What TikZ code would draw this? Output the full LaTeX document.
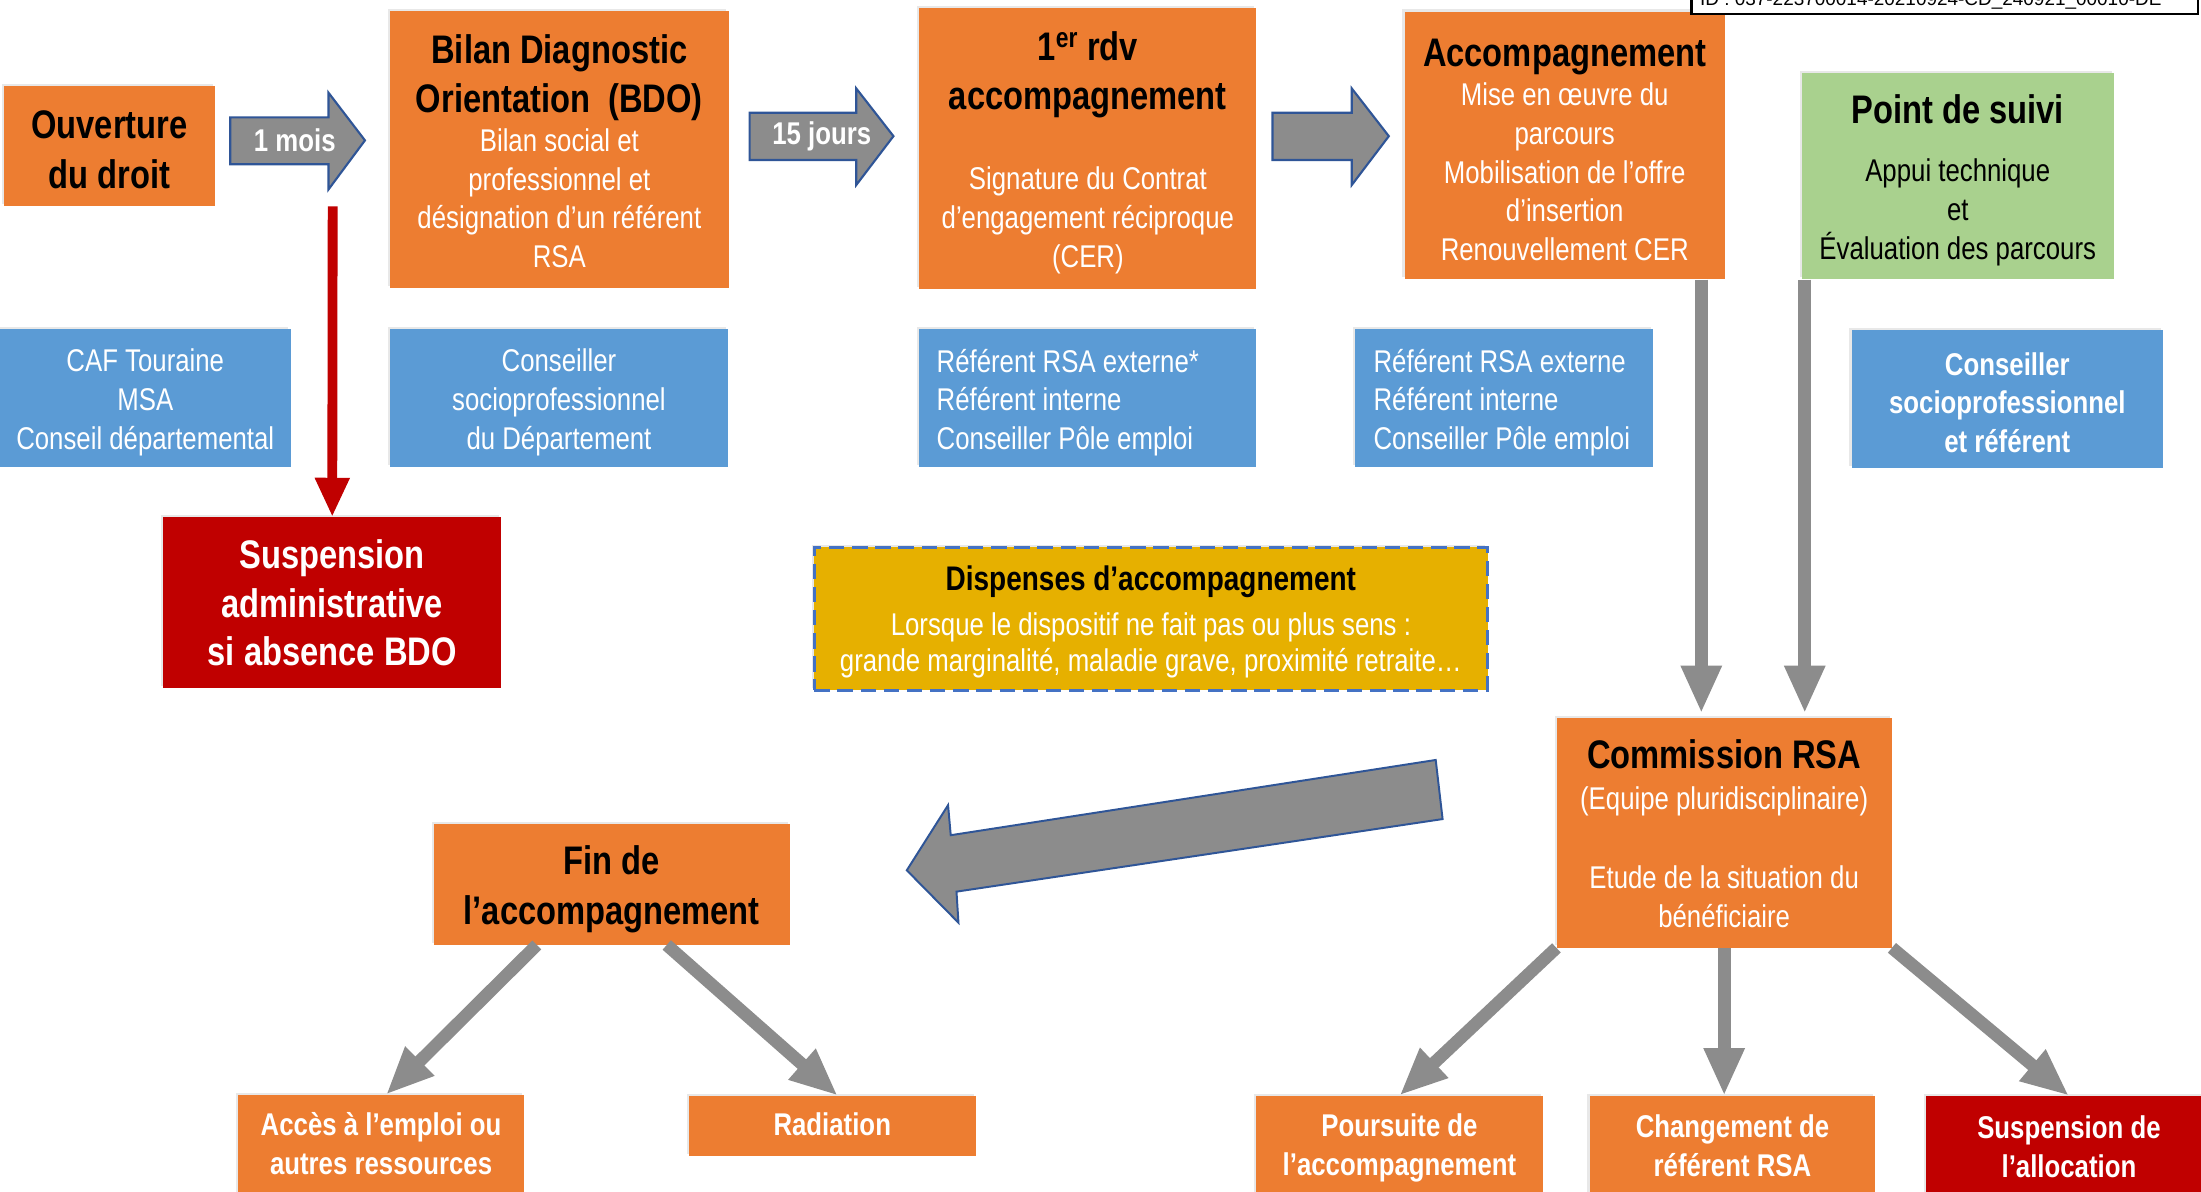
\documentclass[tikz,border=0pt]{standalone}
\usepackage{fontspec}
\setmainfont{Liberation Sans}[FakeStretch=0.82]
\newfontfamily\idfont{Liberation Sans}
\usetikzlibrary{arrows.meta,shadows}
\definecolor{orng}{HTML}{ED7D31}
\definecolor{blu}{HTML}{5B9BD5}
\definecolor{redd}{HTML}{C00000}
\definecolor{grn}{HTML}{A9D18E}
\definecolor{gold}{HTML}{E6B000}
\definecolor{arrg}{HTML}{8C8C8C}
\definecolor{arrb}{HTML}{2F5597}
\definecolor{dashb}{HTML}{4472C4}
\newcommand\basefnt{\fontsize{22.4}{27.6}\selectfont\lineskiplimit=-200pt\relax}
\newcommand\ttl{\fontsize{28.4}{35}\selectfont\bfseries\color{black}}
\newcommand\ttw{\fontsize{28.4}{35}\selectfont\bfseries\color{white}}
\newcommand\dtl{\fontsize{24.3}{30}\selectfont\bfseries\color{black}}
\newcommand\toph[1]{\rule{0pt}{#1}}
\newcommand\botd[1]{\rule[-#1]{0pt}{0pt}}
\begin{document}
\begin{tikzpicture}[x=1pt,y=-1pt,
  box/.style={rectangle, inner sep=0pt, align=center, text=white,
    font=\basefnt,
    drop shadow={shadow xshift=-1.5pt, shadow yshift=1.5pt, opacity=0.18}},
  orbox/.style={box, fill=orng},
  blbox/.style={box, fill=blu},
  rdbox/.style={box, fill=redd},
  btxt/.style={inner sep=0pt, align=left, text=white, font=\basefnt},
  blockarrow/.style={fill=arrg, draw=arrb, line width=1.5pt, line join=miter},
  arrtxt/.style={inner sep=0pt, text=white, font={\basefnt\bfseries}},
  garr/.style={draw=arrg, line width=9pt, -{Triangle[width=27pt,length=34pt]}},
  rarr/.style={draw=redd, line width=7pt, -{Triangle[width=23pt,length=28pt]}}]
\useasboundingbox (0,0) rectangle (1568,849);
\fill[white] (0,0) rectangle (1568,849);

% top row
\node[orbox, minimum width=150pt, minimum height=86pt] (ouv) at (78,104)
  {\toph{25.2pt}\ttl Ouverture\\[8.4pt]\ttl du droit};
\node[orbox, minimum width=241pt, minimum height=197pt] (bdo) at (398.5,106.5)
  {\toph{23pt}\ttl Bilan Diagnostic\\[7.4pt]\ttl Orientation~~(BDO)\\Bilan social et\\professionnel et\\désignation d’un référent\\RSA};
\node[orbox, minimum width=240pt, minimum height=200pt] (rdv) at (775,106)
  {\toph{26pt}\ttl 1\textsuperscript{er} rdv\\[7.2pt]\ttl accompagnement\\[29.6pt]Signature du Contrat\\d'engagement réciproque\\(CER)};
\node[orbox, minimum width=228.2pt, minimum height=190.7pt] (acc) at (1114.7,103.6)
  {\toph{26.3pt}\ttl Accompagnement\\Mise en œuvre du\\parcours\\Mobilisation de l’offre\\d’insertion\\Renouvellement CER};
\node[box, fill=grn, text=black, minimum width=222.4pt, minimum height=147.2pt] (suivi) at (1394.7,125.4)
  {\toph{26.3pt}\ttl Point de suivi\\[14.3pt]Appui technique\\et\\Évaluation des parcours};

% block arrows
\filldraw[blockarrow] (164,83.6) -- (234,83.6) -- (234,66) -- (260,100) -- (234,135) -- (234,117) -- (164,117) -- cycle;
\node[arrtxt] (m1) at (210,100) {1 mois};
\filldraw[blockarrow] (534,80.3) -- (610,80.3) -- (610,63) -- (636.5,97) -- (610,131.8) -- (610,114) -- (534,114) -- cycle;
\node[arrtxt] (j15) at (585.4,97.4) {15 jours};
\filldraw[blockarrow] (906.5,80.3) -- (963,80.3) -- (963,63) -- (989.4,97) -- (963,131.8) -- (963,114) -- (906.5,114) -- cycle;

% ID box (cropped at the top, as in the reference)
\node[draw=black, fill=white, line width=1.5pt, minimum width=361pt, minimum height=30pt, inner sep=0pt] (idb) at (1385.5,-5) {};
\node[anchor=base, inner sep=0pt, font=\idfont\fontsize{13.5}{16}\selectfont] (idt) at (1375.5,3.6)
  {ID : 037-223700014-20210924-CD\_240921\_00010-DE};

% second row (blue)
\node[blbox, minimum width=207pt, minimum height=98.4pt] (caf) at (103.5,283.8)
  {\toph{22pt}CAF Touraine\\MSA\\Conseil départemental};
\node[blbox, minimum width=240.3pt, minimum height=98.4pt] (csp) at (398.2,283.8)
  {\toph{22pt}Conseiller\\socioprofessionnel\\du Département};
\node[blbox, minimum width=239.8pt, minimum height=98.4pt] (ref1) at (774.9,283.8) {};
\node[btxt, anchor=west, yshift=-3pt] (ref1t) at ([xshift=12.3pt]ref1.west)
  {Référent RSA externe*\\Référent interne\\Conseiller Pôle emploi};
\node[blbox, minimum width=212.3pt, minimum height=98.4pt] (ref2) at (1071.5,283.8) {};
\node[btxt, anchor=west, yshift=-3pt] (ref2t) at ([xshift=13.2pt]ref2.west)
  {Référent RSA externe\\Référent interne\\Conseiller Pôle emploi};
\node[blbox, font=\basefnt\bfseries, minimum width=222pt, minimum height=98.4pt] (cspr) at (1430,284.5)
  {\toph{21pt}Conseiller\\socioprofessionnel\\et référent};

% suspension administrative
\node[rdbox, minimum width=240.7pt, minimum height=121.9pt] (susp) at (236.7,429.5)
  {\ttw Suspension\\[6.8pt]\ttw administrative\\[6.8pt]\ttw si absence BDO};
\coordinate (rstart) at (237,147);
\draw[rarr] (rstart) -- (susp.north);

% dispenses
\node[box, fill=gold, draw=dashb, line width=2.2pt, dash pattern=on 11pt off 5.5pt,
  minimum width=479.7pt, minimum height=101.6pt] (disp) at (819.9,440.8)
  {\toph{22.5pt}\dtl Dispenses d’accompagnement\\[3.9pt]Lorsque le dispositif ne fait pas ou plus sens :\\[-1.5pt]grande marginalité, maladie grave, proximité retraite…};

% commission
\node[orbox, minimum width=238.6pt, minimum height=163.7pt] (comm) at (1228.3,593.2)
  {\toph{22pt}\ttl Commission RSA\\[1.3pt](Equipe pluridisciplinaire)\\[28.5pt]Etude de la situation du\\bénéficiaire};
\coordinate (xa) at (1212,0);
\coordinate (xb) at (1285.7,0);
\draw[garr] (acc.south -| xa) -- ([yshift=3pt]comm.north -| xa);
\draw[garr] (suivi.south -| xb) -- ([yshift=3pt]comm.north -| xb);

% big left arrow
\filldraw[blockarrow, line width=1.4pt] (646,620) -- (675.4,573.6) -- (677.3,595) -- (1022.8,541.4) -- (1027.7,583.5) -- (681.4,635.2) -- (682.8,657.3) -- cycle;

% fin
\node[orbox, minimum width=253.6pt, minimum height=86pt] (fin) at (435.8,630)
  {\toph{27.5pt}\ttl Fin de\\[7.7pt]\ttl l’accompagnement};

% bottom boxes
\node[orbox, font=\basefnt\bfseries, minimum width=203.6pt, minimum height=73pt] (acces) at (271.5,816.5)
  {Accès à l’emploi ou\\autres ressources\botd{4pt}};
\node[orbox, font=\basefnt\bfseries, minimum width=204.3pt, minimum height=42.5pt] (rad) at (592.9,802)
  {Radiation\botd{2pt}};
\node[orbox, font=\basefnt\bfseries, minimum width=204pt, minimum height=72.4pt] (pour) at (997,816.8)
  {\toph{18pt}Poursuite de\\l’accompagnement};
\node[orbox, font=\basefnt\bfseries, minimum width=203.7pt, minimum height=72.2pt] (chg) at (1234.2,816.9)
  {Changement de\\référent RSA\botd{2pt}};
\node[rdbox, font=\basefnt\bfseries, minimum width=204.2pt, minimum height=72.2pt] (susal) at (1473.9,816.9)
  {Suspension de\\l’allocation};

% connectors
\draw[garr] ([xshift=-53.4pt]fin.south) -- ([xshift=3.5pt]acces.north);
\draw[garr] ([xshift=39.2pt]fin.south) -- ([xshift=3.9pt]rad.north);
\draw[garr] (comm.south west) -- (pour.north);
\draw[garr] (comm.south) -- (comm.south |- chg.north);
\draw[garr] (comm.south east) -- (susal.north);
\end{tikzpicture}
\end{document}
